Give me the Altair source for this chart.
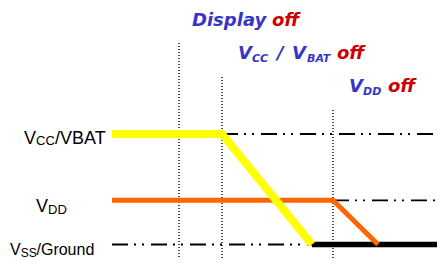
import altair as alt
import pandas as pd

# ---- data (time in arbitrary units, voltage levels in arbitrary units) ----
event_names = ["Display off", "VCC/VBAT off", "VDD off"]
event_t = [6.7, 11.0, 22.1]
event_top = [4.56, 3.79, 3.04]

vcc_t = [0.0, 11.0, 20.0]
vcc_v = [2.5, 2.5, 0.0]
vdd_t = [0.0, 22.1, 26.6]
vdd_v = [1.0, 1.0, 0.0]
gnd_t = [20.0, 32.5]
gnd_v = [0.0, 0.0]

ref_level = [2.5, 1.0, 0.0]
ref_start = [11.0, 22.1, 0.0]
ref_end = [32.5, 32.5, 20.0]

# annotation pieces: text, t, v
title_main_text = ["Display", "V", "/", "V", "V"]
title_main_t = [8.0, 12.6, 16.5, 18.0, 23.7]
title_main_v = [4.95, 4.19, 4.19, 4.19, 3.44]
title_sub_text = ["CC", "BAT", "DD"]
title_sub_t = [14.0, 19.5, 25.1]
title_sub_v = [4.122, 4.122, 3.372]
title_off_t = [16.0, 22.5, 27.6]
title_off_v = [4.95, 4.19, 3.44]
left_main_text = ["V", "/VBAT", "V"]
left_main_t = [-8.8, -5.7, -7.6]
left_main_v = [2.274, 2.274, 0.735]
left_sub_text = ["CC", "DD"]
left_sub_t = [-7.6, -6.4]
left_sub_v = [2.26, 0.69]
gnd_main_text = ["V", "/Ground"]
gnd_main_t = [-10.2, -7.55]
gnd_main_v = [-0.24, -0.24]
gnd_sub_text = ["SS"]
gnd_sub_t = [-9.13]
gnd_sub_v = [-0.28]

X_DOM = [-10.4, 32.5]
Y_DOM = [-0.328, 5.35]
xs = alt.Scale(domain=X_DOM, nice=False, zero=False)
ys = alt.Scale(domain=Y_DOM, nice=False, zero=False)

BLUE = "#3535C8"
RED = "#CC0000"
TFONT = "DejaVu Sans"
LFONT = "Liberation Sans"


def X(f="t"):
    return alt.X(f"{f}:Q", scale=xs, axis=None)


def Y(f="v"):
    return alt.Y(f"{f}:Q", scale=ys, axis=None)


events = pd.DataFrame({"name": event_names, "t": event_t, "top": event_top, "bot": [Y_DOM[0]] * 3})
vlines = alt.Chart(events).mark_rule(color="black", strokeWidth=1.4, strokeDash=[1, 2]).encode(
    x=X(), y=Y("top"), y2="bot:Q"
)

refs = pd.DataFrame({"v": ref_level, "t": ref_start, "t2": ref_end})
reflines = alt.Chart(refs).mark_rule(
    color="black", strokeWidth=1.8, strokeDash=[16, 6, 2, 6, 2, 7]
).encode(x=X(), x2="t2:Q", y=Y())


def line(ts, vs, color, width):
    df = pd.DataFrame({"t": ts, "v": vs, "o": list(range(len(ts)))})
    return alt.Chart(df).mark_line(
        color=color, strokeWidth=width, strokeCap="butt", strokeJoin="miter"
    ).encode(x=X(), y=Y(), order="o:Q")


gnd = line(gnd_t, gnd_v, "black", 5.5)
vdd = line(vdd_t, vdd_v, "#FF6600", 5)
vcc = line(vcc_t, vcc_v, "#FFFF00", 8)


def texts(txts, ts, vs, **kw):
    df = pd.DataFrame({"txt": txts, "t": ts, "v": vs})
    return alt.Chart(df).mark_text(align="left", baseline="alphabetic", **kw).encode(
        x=X(), y=Y(), text="txt:N"
    )


t_main = texts(title_main_text, title_main_t, title_main_v, font=TFONT, fontSize=18,
               fontWeight="bold", fontStyle="italic", color=BLUE)
t_sub = texts(title_sub_text, title_sub_t, title_sub_v, font=TFONT, fontSize=11,
              fontWeight="bold", fontStyle="italic", color=BLUE)
t_off = texts(["off"] * 3, title_off_t, title_off_v, font=TFONT, fontSize=18,
              fontWeight="bold", fontStyle="italic", color=RED)
l_main = texts(left_main_text, left_main_t, left_main_v, font=LFONT, fontSize=18, color="black")
l_sub = texts(left_sub_text, left_sub_t, left_sub_v, font=LFONT, fontSize=13, color="black")
g_main = texts(gnd_main_text, gnd_main_t, gnd_main_v, font=LFONT, fontSize=16, color="black")
g_sub = texts(gnd_sub_text, gnd_sub_t, gnd_sub_v, font=LFONT, fontSize=12, color="black")

chart = alt.layer(
    vlines, reflines, gnd, vdd, vcc, t_main, t_sub, t_off, l_main, l_sub, g_main, g_sub
).properties(
    width=429, height=251, padding=0, autosize=alt.AutoSizeParams(type="none")
).configure_view(stroke=None)

chart.save("out.html", embed_options={"renderer": "svg", "actions": False})
